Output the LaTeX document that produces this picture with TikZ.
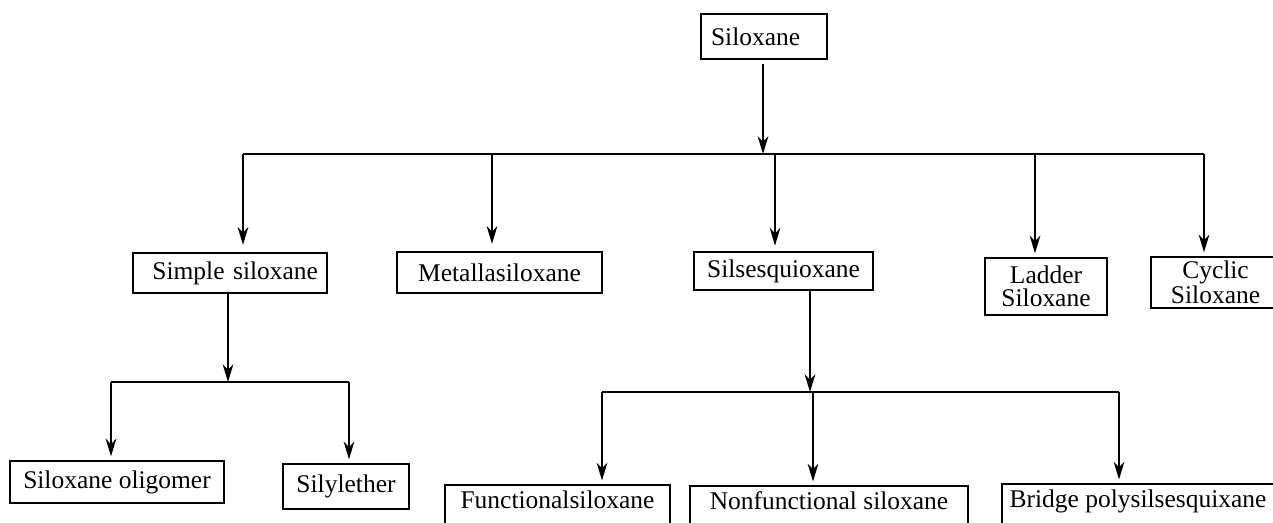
\documentclass[tikz,border=0pt]{standalone}
\usepackage{fontspec}
\setmainfont{Liberation Serif}
\usetikzlibrary{arrows.meta}

\tikzset{
  box/.style={draw, line width=1.3pt, inner sep=0pt, align=center,
    font=\fontsize{14.5}{13}\selectfont},
  cutbox/.style={box, anchor=north, inner ysep=3pt, text height=10.5pt, text depth=22pt},
  arr/.style={-{Stealth[length=10pt,width=6pt,inset=3pt]}, line width=1.3pt},
  ln/.style={line width=1.3pt}
}

\begin{document}
\begin{tikzpicture}[x=0.02cm, y=-0.02cm]
   \useasboundingbox (0,0) rectangle (1273,522);

   % boxes
   \node[box, minimum width=2.52cm, minimum height=0.9cm, text width=2.12cm, align=left] (silox) at (764,36.5) {Siloxane};

   \node[box, minimum width=3.88cm, minimum height=0.8cm, text width=3.52cm, align=right] (simple) at (230,273) {Simple siloxane};
   \node[box, minimum width=4.1cm, minimum height=0.82cm] (metalla) at (499.5,272.5) {Metallasiloxane};
   \node[box, minimum width=3.58cm, minimum height=0.76cm] (silses) at (783.5,271) {Silsesquioxane};
   \node[box, minimum width=2.44cm, minimum height=1.14cm] (ladder) at (1046,286.5) {Ladder\\Siloxane};
   \node[box, minimum width=2.58cm, minimum height=1.02cm] (cyclic) at (1215.5,282.5) {Cyclic\\Siloxane};

   \node[box, minimum width=4.28cm, minimum height=0.84cm] (oligo) at (117,482) {Siloxane oligomer};
   \node[box, minimum width=2.52cm, minimum height=0.9cm] (silyl) at (346,486.5) {Silylether};

   \node[cutbox, minimum width=4.5cm] (func) at (557.5,484) {Functionalsiloxane};
   \node[cutbox, minimum width=5.56cm] (nonfunc) at (829,485) {Nonfunctional siloxane};
   \node[cutbox, minimum width=5.44cm] (bridge) at (1138,483) {Bridge polysilsesquixane};

   % first level
   \coordinate (b1) at (243,154);
   \coordinate (b2) at (492,154);
   \coordinate (b3) at (775,154);
   \coordinate (b4) at (1035,154);
   \coordinate (b5) at (1204,154);
   \draw[arr, shorten <=2pt] (silox.south -| 763,0) -- (763,154);
   \draw[ln] (b1) -- (b5);
   \draw[arr, shorten >=4pt] (b1) -- (b1 |- simple.north);
   \draw[arr, shorten >=4pt] (b2) -- (b2 |- metalla.north);
   \draw[arr, shorten >=3pt] (b3) -- (b3 |- silses.north);
   \draw[arr, shorten >=2pt] (b4) -- (b4 |- ladder.north);
   \draw[arr, shorten >=2pt] (b5) -- (b5 |- cyclic.north);

   % simple siloxane
   \coordinate (s1) at (111,382);
   \coordinate (s2) at (349,382);
   \draw[arr] (simple.south -| 228,0) -- (228,382);
   \draw[ln] (s1) -- (s2);
   \draw[arr, shorten >=2pt] (s1) -- (s1 |- oligo.north);
   \draw[arr, shorten >=2pt] (s2) -- (s2 |- silyl.north);

   % silsesquioxane
   \coordinate (q1) at (602,392);
   \coordinate (q2) at (813,392);
   \coordinate (q3) at (1119,392);
   \draw[arr] (silses.south -| 810,0) -- (810,392);
   \draw[ln] (q1) -- (q3);
   \draw[arr, shorten >=2pt] (q1) -- (q1 |- func.north);
   \draw[arr, shorten >=2pt] (q2) -- (q2 |- nonfunc.north);
   \draw[arr, shorten >=2pt] (q3) -- (q3 |- bridge.north);
\end{tikzpicture}
\end{document}
